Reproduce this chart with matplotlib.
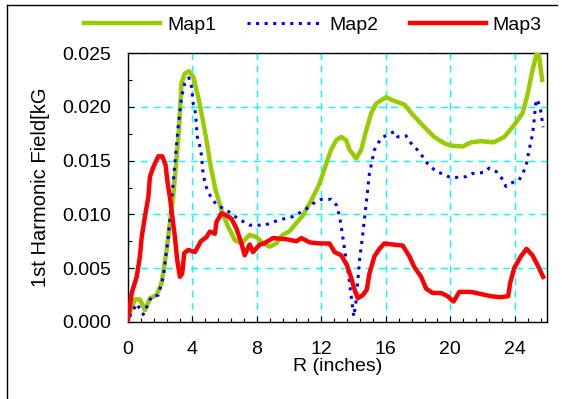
import matplotlib
matplotlib.use("Agg")
import matplotlib.pyplot as plt
import matplotlib.ticker as mticker
from matplotlib.lines import Line2D

plt.rcParams["font.family"] = ["Liberation Sans", "DejaVu Sans"]

GREEN = "#99CC00"
BLUE = "#0000FF"
RED = "#FF0000"
GRID = "#00FFFF"

# ── data ──────────────────────────────────────────────────────────────────────
map1_r = [0.0, 0.43, 0.74, 1.05, 1.36, 1.78, 2.08, 2.4, 2.6, 2.8, 3.0, 3.16,
          3.32, 3.53, 3.78, 4.05, 4.36, 4.6, 4.87, 5.14, 5.43, 5.8, 6.2, 6.63,
          7.04, 7.55, 7.97, 8.38, 8.8, 9.2, 9.6, 10.0, 10.45, 10.86, 11.37,
          11.9, 12.3, 12.6, 12.92, 13.23, 13.54, 13.75, 14.16, 14.47, 14.78,
          15.09, 15.4, 16.02, 16.43, 17.15, 17.77, 18.4, 19.0, 19.63, 20.04,
          20.76, 21.28, 21.9, 22.7, 23.35, 23.96, 24.48, 24.8, 25.1, 25.37,
          25.5, 25.7]
map1_b = [0.0004, 0.0021, 0.0021, 0.0011, 0.0022, 0.0025, 0.0036, 0.0067,
          0.0092, 0.0116, 0.0150, 0.0178, 0.0222, 0.0231, 0.0233, 0.0228,
          0.0209, 0.0191, 0.0169, 0.0144, 0.0123, 0.0104, 0.0089, 0.0076,
          0.0073, 0.0081, 0.0079, 0.0073, 0.0070, 0.0073, 0.0081, 0.0084,
          0.0092, 0.0099, 0.0113, 0.0129, 0.0147, 0.0160, 0.0169, 0.0172,
          0.0169, 0.0160, 0.0152, 0.0160, 0.0178, 0.0194, 0.0203, 0.0209,
          0.0206, 0.0202, 0.0191, 0.0181, 0.0172, 0.0166, 0.0164, 0.0163,
          0.0167, 0.0168, 0.0167, 0.0172, 0.0183, 0.0194, 0.0212, 0.0234,
          0.0250, 0.0248, 0.0225]

map2_r = [0.1, 0.54, 0.95, 1.47, 1.88, 2.19, 2.5, 2.8, 3.11, 3.32, 3.53, 3.78,
          3.94, 4.05, 4.19, 4.3, 4.52, 4.66, 4.81, 5.14, 5.49, 6.11, 6.83,
          7.55, 8.07, 8.48, 9.41, 10.24, 10.96, 11.47, 11.99, 12.61, 12.92,
          13.13, 13.33, 13.5, 13.7, 13.85, 14.01, 14.16, 14.37, 14.57, 14.78,
          14.98, 15.29, 15.44, 15.71, 16.12, 16.53, 16.74, 17.26, 17.57,
          18.08, 18.6, 19.11, 19.63, 20.04, 20.97, 21.38, 22.1, 22.41, 22.83,
          23.14, 23.45, 23.76, 24.27, 24.69, 24.89, 25.03, 25.16, 25.3, 25.4,
          25.6, 25.76]
map2_b = [0.0005, 0.0017, 0.0007, 0.0024, 0.0025, 0.0042, 0.0079, 0.0129,
          0.0181, 0.0209, 0.0222, 0.0227, 0.0219, 0.0203, 0.0194, 0.0172,
          0.0160, 0.0138, 0.0127, 0.0116, 0.0109, 0.0104, 0.0096, 0.0090,
          0.0090, 0.0090, 0.0095, 0.0098, 0.0104, 0.0110, 0.0114, 0.0114,
          0.0109, 0.0098, 0.0079, 0.0061, 0.0042, 0.0024, 0.0005, 0.0020,
          0.0058, 0.0082, 0.0110, 0.0138, 0.0160, 0.0164, 0.0171, 0.0174,
          0.0177, 0.0172, 0.0173, 0.0166, 0.0158, 0.0147, 0.0140, 0.0137,
          0.0134, 0.0135, 0.0138, 0.0139, 0.0143, 0.0140, 0.0135, 0.0126,
          0.0129, 0.0132, 0.0144, 0.0160, 0.0169, 0.0181, 0.0203, 0.0207,
          0.0197, 0.0181]

map3_r = [0.0, 0.23, 0.54, 0.74, 0.85, 1.05, 1.26, 1.36, 1.57, 1.88, 2.13,
          2.33, 2.46, 2.6, 2.75, 2.91, 3.05, 3.22, 3.36, 3.49, 3.74, 4.15,
          4.52, 4.87, 5.08, 5.39, 5.49, 5.8, 6.11, 6.42, 6.73, 7.04, 7.24,
          7.55, 7.76, 8.17, 8.44, 9.0, 9.82, 10.45, 10.76, 11.27, 11.89, 12.5,
          12.82, 13.23, 13.58, 13.85, 14.06, 14.26, 14.57, 14.82, 14.98,
          15.29, 15.6, 15.91, 16.43, 17.05, 17.46, 17.77, 18.19, 18.5, 18.9,
          19.42, 19.83, 20.2, 20.56, 21.28, 21.9, 22.52, 23.14, 23.59, 23.71,
          23.96, 24.38, 24.73, 25.1, 25.41, 25.76]
map3_b = [0.0002, 0.0027, 0.0042, 0.0061, 0.0079, 0.0098, 0.0116, 0.0135,
          0.0144, 0.0154, 0.0154, 0.0146, 0.0129, 0.0116, 0.0098, 0.0079,
          0.0058, 0.0042, 0.0045, 0.0064, 0.0067, 0.0065, 0.0075, 0.0079,
          0.0084, 0.0082, 0.0093, 0.0101, 0.0099, 0.0096, 0.0087, 0.0073,
          0.0062, 0.0072, 0.0065, 0.0072, 0.0073, 0.0078, 0.0077, 0.0075,
          0.0078, 0.0074, 0.0073, 0.0073, 0.0065, 0.0062, 0.0053, 0.0041,
          0.0030, 0.0022, 0.0025, 0.0030, 0.0045, 0.0061, 0.0068, 0.0073,
          0.0072, 0.0071, 0.0061, 0.0051, 0.0042, 0.0031, 0.0027, 0.0027,
          0.0024, 0.0019, 0.0028, 0.0028, 0.0026, 0.0024, 0.0023, 0.0024,
          0.0036, 0.0050, 0.0061, 0.0068, 0.0062, 0.0053, 0.0042]

x_ticks = [0, 4, 8, 12, 16, 20, 24]
y_ticks = [0.0, 0.005, 0.010, 0.015, 0.020, 0.025]

# ── figure ────────────────────────────────────────────────────────────────────
fig = plt.figure(figsize=(5.62, 3.99), dpi=100)
ax = fig.add_axes([128 / 562, 1 - 322 / 399, (547 - 128) / 562, (322 - 53) / 399])

ax.plot(map1_r, map1_b, color=GREEN, lw=3.2, label="Map1", zorder=3)
ax.plot(map2_r, map2_b, color=BLUE, lw=2.2, ls=(0, (1, 1.8)), label="Map2", zorder=4)
ax.plot(map3_r, map3_b, color=RED, lw=3.2, label="Map3", zorder=5)

ax.set_xlim(0, 26)
ax.set_ylim(0, 0.025)
ax.set_xticks(x_ticks)
ax.set_yticks(y_ticks)
ax.xaxis.set_minor_locator(mticker.MultipleLocator(0.8))
ax.yaxis.set_minor_locator(mticker.MultipleLocator(0.0025))
ax.yaxis.set_major_formatter(mticker.FormatStrFormatter("%.3f"))
ax.tick_params(which="both", direction="in", top=False, right=False,
               colors="black", labelsize=14)
ax.tick_params(which="major", length=4, width=0.8)
ax.tick_params(which="minor", length=3, width=0.8)
ax.tick_params(axis="y", pad=12)
ax.tick_params(axis="x", pad=14)

ax.grid(True, which="major", color=GRID, ls=(0, (5, 4)), lw=1, zorder=1)
for s in ax.spines.values():
    s.set_color("black")
    s.set_linewidth(1)

ax.set_xlabel("R (inches)", fontsize=14, labelpad=0)
ax.set_ylabel("1st Harmonic Field[kG", fontsize=14.5, labelpad=9)

fig.legend(loc="center", bbox_to_anchor=(0.557, 1 - 25 / 399), ncol=3,
           frameon=False, fontsize=14, handlelength=3.9, handletextpad=0.35,
           columnspacing=1.6)

# partial outer frame (left and top edge)
fig.add_artist(Line2D([7 / 562, 7 / 562], [0, 1 - 5 / 399], color="black",
                      lw=1, transform=fig.transFigure))
fig.add_artist(Line2D([7 / 562, 557 / 562], [1 - 5 / 399, 1 - 5 / 399],
                      color="black", lw=1, transform=fig.transFigure))

fig.savefig("out.png", dpi=100)
